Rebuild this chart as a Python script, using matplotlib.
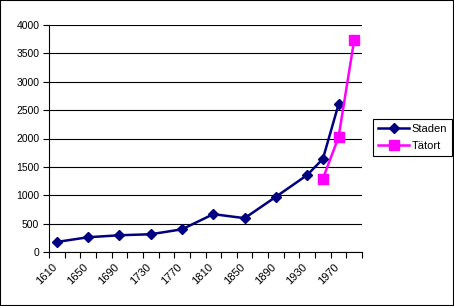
import matplotlib
matplotlib.use("Agg")
import matplotlib.pyplot as plt
from matplotlib.patches import Rectangle
from matplotlib.transforms import ScaledTranslation

# categories every 20 years, labels every other one
categories = [str(y) for y in range(1610, 2000, 20)]
label_years = ["1610", "1650", "1690", "1730", "1770", "1810", "1850", "1890", "1930", "1970"]

staden_years = ["1610", "1650", "1690", "1730", "1770", "1810", "1850", "1890", "1930", "1950", "1970"]
staden_vals = [177, 260, 295, 313, 400, 667, 596, 973, 1357, 1640, 2600]

tatort_years = ["1950", "1970", "1990"]
tatort_vals = [1292, 2023, 3735]

plt.rcParams["font.family"] = ["Liberation Sans", "DejaVu Sans"]
plt.rcParams["font.size"] = 7.5

W, H = 454, 306
fig = plt.figure(figsize=(W / 100, H / 100), dpi=100)
ax = fig.add_axes([49 / W, 1 - 252 / H, (362 - 49) / W, (252 - 25) / H])

idx = {c: i for i, c in enumerate(categories)}
ax.plot([idx[y] for y in staden_years], staden_vals, color="#000080", lw=1.8,
        marker="D", markersize=5, label="Staden")
ax.plot([idx[y] for y in tatort_years], tatort_vals, color="#FF00FF", lw=1.8,
        marker="s", markersize=6.5, label="Tätort")

ax.set_xlim(-0.5, len(categories) - 0.5)
ax.set_ylim(0, 4000)
ax.set_yticks(range(0, 4001, 500))
ax.yaxis.grid(True, color="black", lw=0.8)
ax.set_axisbelow(True)

# tick marks at category boundaries, labels at category centres
ax.set_xticks([i - 0.5 for i in range(len(categories) + 1)])
ax.set_xticklabels([])
ax.set_xticks([idx[y] for y in label_years], minor=True)
ax.set_xticklabels(label_years, minor=True, rotation=45, ha="right",
                   rotation_mode="anchor", fontsize=8)
ax.tick_params(axis="x", which="minor", length=0, pad=7)
ax.tick_params(axis="both", which="major", length=4, width=0.8, color="black")
ax.tick_params(axis="y", pad=3)
shift = ScaledTranslation(-5 / 100, 0, fig.dpi_scale_trans)
for lab in ax.get_xticklabels(minor=True):
    lab.set_transform(lab.get_transform() + shift)

for s in ["top", "right"]:
    ax.spines[s].set_visible(False)
for s in ["left", "bottom"]:
    ax.spines[s].set_linewidth(0.8)

leg = fig.legend(loc="upper left", bbox_to_anchor=(373 / W, 1 - 119 / H),
                 frameon=True, fancybox=False, edgecolor="black", framealpha=1,
                 handlelength=2.8, borderpad=0.45, labelspacing=0.6,
                 handletextpad=0.2, fontsize=8, borderaxespad=0)
leg.get_frame().set_linewidth(0.8)

fig.patches.append(Rectangle((0, 0), 1, 1, transform=fig.transFigure,
                             fill=False, edgecolor="black", lw=1.5))

fig.savefig("out.png", dpi=100)
